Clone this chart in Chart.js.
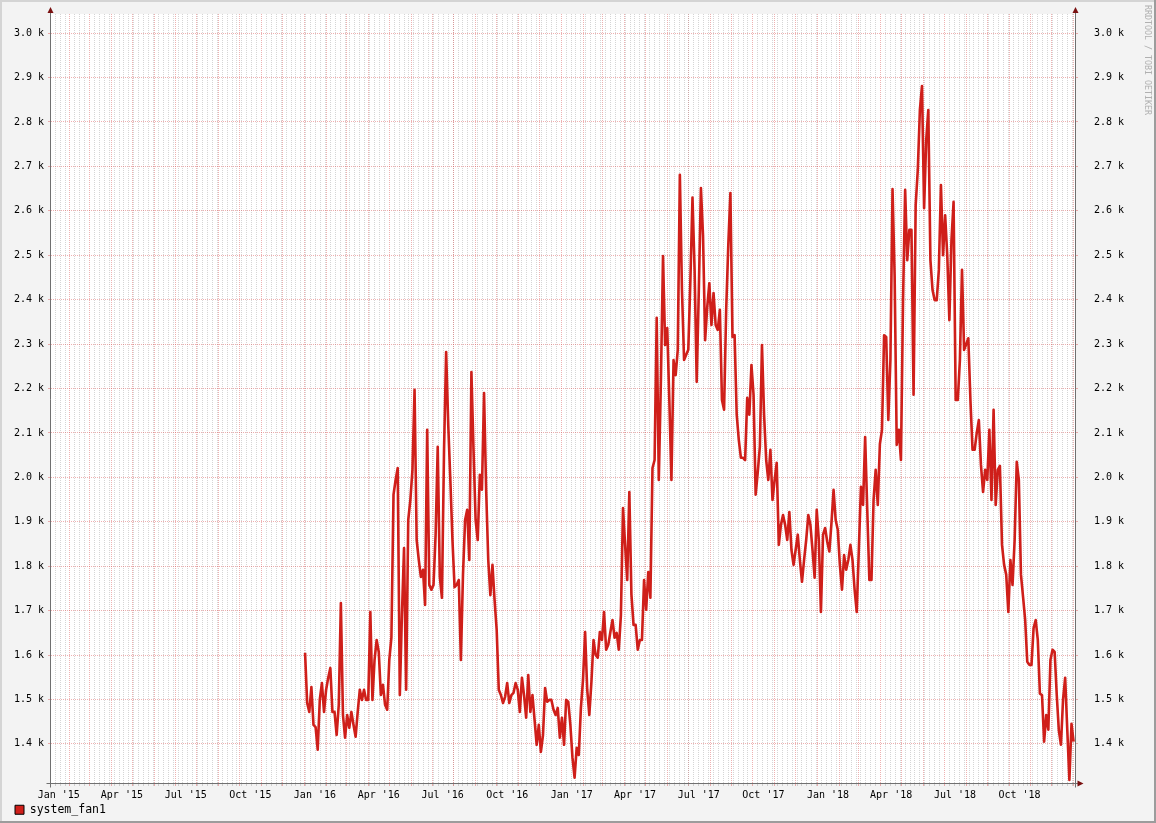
<!DOCTYPE html>
<html><head><meta charset="utf-8">
<script src="https://cdn.jsdelivr.net/npm/chart.js@4.4.1/dist/chart.umd.min.js"></script>
<style>html,body{margin:0;padding:0;background:#F3F3F3;overflow:hidden}canvas{display:block}</style>
</head><body>
<canvas id="c" width="1156" height="823"></canvas>
<script>
// ---------------- data ----------------
const seriesName = 'system_fan1';
const seriesStart = '2016-01-02';   // first sample
const seriesStepDays = 3;           // one sample every 3 days
const fanValues = [
1605,1492,1472,1528,1443,1438,1387,1500,1537,1472,
1522,1549,1571,1472,1472,1420,1488,1717,1465,1414,
1465,1436,1472,1443,1416,1472,1522,1499,1522,1499,
1499,1697,1499,1589,1634,1607,1510,1533,1488,1477,
1589,1639,1961,1994,2021,1510,1690,1841,1522,1904,
1949,2017,2197,1859,1814,1776,1792,1713,2107,1758,
1747,1758,1871,2069,1776,1729,2062,2282,2118,1994,
1859,1753,1758,1769,1589,1781,1904,1927,1814,2237,
2062,1904,1859,2006,1972,2190,1972,1814,1735,1803,
1724,1657,1522,1510,1492,1506,1537,1492,1510,1515,
1537,1522,1472,1549,1510,1459,1555,1472,1510,1454,
1398,1443,1382,1420,1526,1495,1499,1499,1477,1465,
1481,1414,1459,1398,1499,1495,1443,1369,1324,1391,
1375,1481,1544,1652,1522,1465,1540,1634,1600,1594,
1652,1634,1697,1612,1623,1652,1679,1639,1650,1612,
1690,1931,1848,1769,1967,1736,1668,1668,1612,1634,
1634,1769,1702,1787,1729,2021,2039,2359,1994,2219,
2498,2298,2336,2174,1994,2264,2230,2287,2681,2422,
2264,2276,2287,2444,2630,2467,2215,2420,2651,2545,
2309,2383,2437,2343,2415,2343,2332,2377,2174,2152,
2377,2523,2640,2316,2320,2141,2084,2044,2044,2039,
2179,2141,2253,2186,1961,2012,2069,2298,2141,2039,
1994,2062,1949,1994,2033,1848,1893,1915,1893,1859,
1922,1837,1803,1837,1871,1814,1765,1814,1859,1915,
1893,1837,1774,1927,1859,1697,1871,1886,1855,1833,
1897,1972,1904,1882,1803,1747,1825,1792,1814,1848,
1814,1747,1697,1837,1979,1938,2091,1927,1769,1769,
1949,2017,1938,2075,2107,2320,2316,2129,2264,2649,
2455,2073,2107,2039,2399,2647,2489,2557,2557,2186,
2613,2692,2827,2881,2606,2759,2827,2489,2422,2399,
2399,2467,2658,2500,2590,2500,2354,2534,2620,2174,
2174,2264,2467,2287,2300,2313,2174,2062,2062,2100,
2129,2028,1967,2017,1994,2107,1949,2152,1938,2017,
2026,1848,1803,1781,1697,1814,1758,1859,2035,1994,
1781,1731,1679,1585,1578,1578,1661,1679,1634,1513,
1510,1405,1465,1432,1589,1612,1607,1510,1430,1398,
1501,1549,1432,1319,1445,1405
];
const xRangeDates = ['2015-01-05', '2019-01-03'];
const yRange = [1312, 3043];
const yTickValues = [1400,1500,1600,1700,1800,1900,2000,2100,2200,2300,2400,2500,2600,2700,2800,2900,3000];
const xLabelMonths = ['2015-01','2015-04','2015-07','2015-10','2016-01','2016-04','2016-07','2016-10',
                      '2017-01','2017-04','2017-07','2017-10','2018-01','2018-04','2018-07','2018-10'];
const xTickLabels = ["Jan '15","Apr '15","Jul '15","Oct '15","Jan '16","Apr '16","Jul '16","Oct '16",
                     "Jan '17","Apr '17","Jul '17","Oct '17","Jan '18","Apr '18","Jul '18","Oct '18"];

// ---------------- styles ----------------
const FONT = 'DejaVu Sans Mono';
const LINE_COLOR = '#CF1F1A';
const MGRID = 'rgba(215,70,70,0.42)';
const GRID = 'rgba(150,150,150,0.40)';
const AXIS = '#707070';
const ARROW = '#7A1010';

// ---------------- helpers ----------------
const EPOCH = Date.UTC(2015, 0, 1);
function dayOf(s) {
  const p = s.split('-').map(Number);
  return (Date.UTC(p[0], p[1] - 1, p[2] || 1) - EPOCH) / 864e5;
}
const xMin = dayOf(xRangeDates[0]);
const xMax = dayOf(xRangeDates[1]);
const start = dayOf(seriesStart);
const points = fanValues.map((v, i) => ({ x: start + i * seriesStepDays, y: v }));

const tickType = new Map();
for (let d = Math.ceil(xMin); d <= xMax; d++) {
  const dt = new Date(EPOCH + d * 864e5);
  if (dt.getUTCDay() === 0) tickType.set(d, 'minor');
  if (dt.getUTCDate() === 1) tickType.set(d, 'major');
}
const labelAt = new Map();
xLabelMonths.forEach((m, i) => {
  const v = dayOf(m + '-01') + 15.02;
  labelAt.set(v, xTickLabels[i]);
  tickType.set(v, 'label');
});
const xTicks = [...tickType.keys()].filter(v => v >= xMin && v <= xMax).sort((a, b) => a - b);

function xGridColor(ctx) {
  const t = ctx.tick ? tickType.get(ctx.tick.value) : null;
  if (t === 'major') return MGRID;
  if (t === 'minor') return GRID;
  return 'rgba(0,0,0,0)';
}
function noPad(s) { s.paddingTop = 0; s.paddingBottom = 0; s.paddingLeft = 0; s.paddingRight = 0; }

// ---------------- frame plugin ----------------
const rrdFrame = {
  id: 'rrdFrame',
  afterLayout(chart) {
    if (chart.legend) { chart.legend.top = 789; chart.legend.bottom = 823; }
  },
  beforeDraw(chart) {
    const { ctx, chartArea: a } = chart;
    ctx.save();
    ctx.fillStyle = '#F3F3F3';
    ctx.fillRect(0, 0, chart.width, chart.height);
    ctx.fillStyle = '#FFFFFF';
    ctx.fillRect(a.left, a.top, a.right - a.left, a.bottom - a.top);
    ctx.restore();
  },
  afterDatasetsDraw(chart) {
    const { ctx, chartArea: a } = chart;
    const L = a.left - 0.5, R = a.right + 0.5, B = a.bottom + 0.5, T = a.top;
    ctx.save();
    ctx.strokeStyle = AXIS;
    ctx.lineWidth = 1;
    ctx.beginPath();
    ctx.moveTo(L - 4, B); ctx.lineTo(R + 4, B);
    ctx.moveTo(L, B + 4); ctx.lineTo(L, T - 2);
    ctx.moveTo(R, B + 4); ctx.lineTo(R, T - 2);
    ctx.stroke();
    ctx.fillStyle = ARROW;
    const up = (x) => { ctx.beginPath(); ctx.moveTo(x - 3, T - 1); ctx.lineTo(x + 3, T - 1); ctx.lineTo(x, T - 7); ctx.closePath(); ctx.fill(); };
    up(L); up(R);
    ctx.beginPath(); ctx.moveTo(R + 2, B - 3); ctx.lineTo(R + 2, B + 3); ctx.lineTo(R + 8, B); ctx.closePath(); ctx.fill();
    ctx.restore();
  },
  afterDraw(chart) {
    const { ctx } = chart;
    const W = chart.width, H = chart.height;
    ctx.save();
    ctx.fillStyle = '#D4D4D4';
    ctx.fillRect(0, 0, W, 2);
    ctx.fillRect(0, 0, 2, H);
    ctx.fillStyle = '#9C9C9C';
    ctx.fillRect(0, H - 2, W, 2);
    ctx.fillRect(W - 2, 0, 2, H);
    ctx.translate(1147, 5);
    ctx.rotate(Math.PI / 2);
    ctx.font = '8.3px "' + FONT + '"';
    ctx.fillStyle = '#B0B0B0';
    ctx.textBaseline = 'middle';
    ctx.textAlign = 'left';
    ctx.fillText('RRDTOOL / TOBI OETIKER', 0, 0);
    ctx.restore();
  }
};

Chart.defaults.font.family = FONT;
Chart.defaults.color = '#000';

new Chart(document.getElementById('c'), {
  type: 'line',
  data: {
    datasets: [{
      label: seriesName,
      data: points,
      borderColor: LINE_COLOR,
      backgroundColor: LINE_COLOR,
      borderWidth: 2.6,
      borderJoinStyle: 'round',
      pointRadius: 0,
      tension: 0,
      fill: false,
      yAxisID: 'y'
    }]
  },
  options: {
    responsive: false,
    animation: false,
    devicePixelRatio: 1,
    layout: { padding: { top: 14, left: 0, right: 0, bottom: 0 } },
    plugins: {
      tooltip: { enabled: false },
      legend: {
        display: true, position: 'bottom', align: 'start', maxHeight: 23,
        labels: {
          boxWidth: 9, boxHeight: 9, padding: 15, color: '#000',
          font: { family: FONT, size: 11.5 },
          generateLabels: () => [{ text: seriesName, fillStyle: LINE_COLOR, strokeStyle: '#000', lineWidth: 1, hidden: false, datasetIndex: 0 }]
        }
      }
    },
    scales: {
      x: {
        type: 'linear', position: 'bottom', min: xMin, max: xMax,
        afterBuildTicks: s => { s.ticks = xTicks.map(v => ({ value: v })); },
        afterFit: s => { s.height = 17; noPad(s); },
        grid: { color: xGridColor, lineWidth: 1, drawTicks: true, tickLength: 3, tickColor: xGridColor, tickBorderDash: [] },
        border: { display: false, dash: [1, 1] },
        ticks: {
          autoSkip: false, maxRotation: 0, minRotation: 0, padding: 3,
          font: { family: FONT, size: 10 }, color: '#000',
          callback: v => labelAt.get(v) || ''
        }
      },
      y: {
        type: 'linear', position: 'left', min: yRange[0], max: yRange[1],
        afterBuildTicks: s => { s.ticks = yTickValues.map(v => ({ value: v })); },
        afterFit: s => { s.width = 51; noPad(s); },
        grid: { color: MGRID, lineWidth: 1, drawTicks: true, tickLength: 3, tickColor: MGRID, tickBorderDash: [] },
        border: { display: false, dash: [1, 1] },
        ticks: { padding: 4, font: { family: FONT, size: 10 }, color: '#000', callback: v => (v / 1000).toFixed(1) + ' k' }
      },
      y2: {
        type: 'linear', position: 'right', min: yRange[0], max: yRange[1],
        afterBuildTicks: s => { s.ticks = yTickValues.map(v => ({ value: v })); },
        afterFit: s => { s.width = 81; noPad(s); },
        grid: { drawOnChartArea: false, color: MGRID, drawTicks: true, tickLength: 3, tickColor: MGRID },
        border: { display: false },
        ticks: { padding: 16, font: { family: FONT, size: 10 }, color: '#000', callback: v => (v / 1000).toFixed(1) + ' k' }
      }
    }
  },
  plugins: [rrdFrame]
});
</script>
</body></html>
